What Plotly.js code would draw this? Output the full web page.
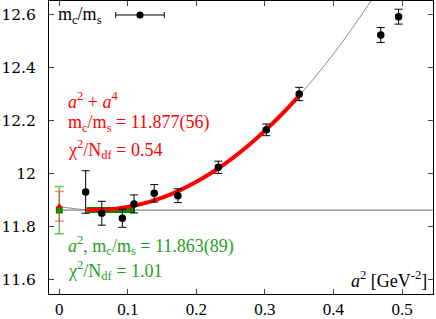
<!DOCTYPE html>
<html>
<head>
<meta charset="utf-8">
<script src="https://cdn.plot.ly/plotly-3.0.1.min.js"></script>
<style>html,body{margin:0;padding:0;background:#fff;}#chart{width:436px;height:319px;}</style>
</head>
<body>
<div id="chart"></div>
<script>
// lattice data: m_c/m_s vs a^2
const a2 = [0.0385, 0.062, 0.092, 0.109, 0.1385, 0.173, 0.232, 0.302, 0.35, 0.469, 0.495];
const ratio = [11.931, 11.851, 11.832, 11.886, 11.926, 11.917, 12.024, 12.165, 12.300, 12.522, 12.591];
const ratioErr = [0.080, 0.045, 0.034, 0.034, 0.033, 0.026, 0.023, 0.022, 0.025, 0.028, 0.028];

// a^2 + a^4 fit curve
const fitX = [0, 0.02, 0.04, 0.06, 0.08, 0.1, 0.125, 0.15, 0.175, 0.2, 0.225, 0.25, 0.275, 0.3, 0.325, 0.35, 0.375, 0.4, 0.425, 0.45, 0.46];
const fitY = [11.877, 11.8687, 11.8643, 11.8637, 11.8671, 11.8744, 11.889, 11.9096, 11.9364, 11.9692, 12.0081, 12.0531, 12.1042, 12.1614, 12.2247, 12.294, 12.3695, 12.451, 12.5386, 12.6323, 12.6715];
// fitted range (thick red)
const fitRangeX = [0.04, 0.06, 0.08, 0.1, 0.125, 0.15, 0.175, 0.2, 0.225, 0.25, 0.275, 0.3, 0.325, 0.35];
const fitRangeY = [11.8643, 11.8637, 11.8671, 11.8744, 11.889, 11.9096, 11.9364, 11.9692, 12.0081, 12.0531, 12.1042, 12.1614, 12.2247, 12.294];

// constant (a^2) fit
const constX = [0, 0.545];
const constY = [11.863, 11.863];
const constRangeX = [0.04, 0.11];
const constRangeY = [11.863, 11.863];

// continuum extrapolations
const extrapX = [0];
const extrapRed = [11.877];
const extrapRedErr = [0.056];
const extrapGreen = [11.863];
const extrapGreenErr = [0.089];

const xTicks = [0, 0.1, 0.2, 0.3, 0.4, 0.5];
const xTickText = ['0', '0.1', '0.2', '0.3', '0.4', '0.5'];
const yTicks = [11.6, 11.8, 12, 12.2, 12.4, 12.6];
const yTickText = ['11.6', '11.8', '12', '12.2', '12.4', '12.6'];

const FONT = "'Liberation Serif', 'DejaVu Serif', serif";
const WIDE = "'DejaVu Serif', serif";
const RED = '#ff0000';
const GREEN = '#1f9f1f';

const traces = [
  {x: constX, y: constY, mode: 'lines', line: {color: '#8a8a8a', width: 1.2}, hoverinfo: 'skip'},
  {x: fitX, y: fitY, mode: 'lines', line: {color: '#8a8a8a', width: 1, shape: 'spline'}, hoverinfo: 'skip'},
  {x: constRangeX, y: constRangeY, mode: 'lines', line: {color: '#008a00', width: 6}, hoverinfo: 'skip'},
  {x: fitRangeX, y: fitRangeY, mode: 'lines', line: {color: RED, width: 4, shape: 'spline'}, hoverinfo: 'skip'},
  {x: extrapX, y: extrapGreen, mode: 'markers',
   error_y: {type: 'data', array: extrapGreenErr, visible: true, color: 'rgba(40,180,40,0.75)', thickness: 1.5, width: 4.5},
   marker: {symbol: 'square', size: 7, color: '#008a00'}},
  {x: extrapX, y: extrapRed, mode: 'markers',
   error_y: {type: 'data', array: extrapRedErr, visible: true, color: 'rgba(255,60,60,0.6)', thickness: 1.5, width: 4.5},
   marker: {symbol: 'triangle-up', size: 6, color: RED}},
  {x: a2, y: ratio, mode: 'markers',
   error_y: {type: 'data', array: ratioErr, visible: true, color: '#000', thickness: 1, width: 4},
   marker: {symbol: 'circle', size: 7.5, color: '#000'}}
];

function px(x){ return (x - 49) / 384; }
function py(y){ return (294 - y) / 293; }

const ann = (x, y, text, color, anchor) => ({
  xref: 'paper', yref: 'paper', x: px(x), y: py(y), text: text, showarrow: false,
  xanchor: anchor || 'left', yanchor: 'middle', font: {family: FONT, size: 18, color: color}
});

const layout = {
  width: 436, height: 319,
  margin: {l: 49, r: 3, t: 1, b: 25},
  paper_bgcolor: '#fff', plot_bgcolor: '#fff',
  showlegend: false,
  font: {family: FONT, size: 18, color: '#000'},
  xaxis: {range: [-0.015, 0.5452], tickvals: xTicks, ticktext: xTickText, ticks: 'inside', ticklen: 5,
          showline: true, linecolor: '#000', linewidth: 1, mirror: 'ticks', showgrid: false, zeroline: false,
          tickfont: {family: FONT, size: 17}, ticklabelstandoff: 0},
  yaxis: {range: [11.547, 12.65], tickvals: yTicks, ticktext: yTickText, ticks: 'inside', ticklen: 5,
          showline: true, linecolor: '#000', linewidth: 1, mirror: 'ticks', showgrid: false, zeroline: false,
          tickfont: {family: WIDE, size: 15.5}, ticklabelstandoff: 9},
  shapes: [
    {type: 'line', xref: 'paper', yref: 'paper', x0: px(115.7), x1: px(164.3), y0: py(15), y1: py(15), line: {color: '#000', width: 1}},
    {type: 'line', xref: 'paper', yref: 'paper', x0: px(115.7), x1: px(115.7), y0: py(12), y1: py(18), line: {color: '#000', width: 1}},
    {type: 'line', xref: 'paper', yref: 'paper', x0: px(164.3), x1: px(164.3), y0: py(12), y1: py(18), line: {color: '#000', width: 1}},
    {type: 'circle', xref: 'paper', yref: 'paper', x0: px(136.4), x1: px(143.6), y0: py(11.4), y1: py(18.6), fillcolor: '#000', line: {color: '#000', width: 0}}
  ],
  annotations: [
    ann(56, 15, 'm<sub>c</sub>/m<sub>s</sub>', '#000'),
    ann(66, 100, '<i>a</i><sup>2</sup> + <i>a</i><sup>4</sup>', RED),
    ann(66, 123, 'm<sub>c</sub>/m<sub>s</sub> = 11.877(56)', RED),
    ann(66, 149, 'χ<sup>2</sup>/N<sub>df</sub> = 0.54', RED),
    ann(66, 245, '<i>a</i><sup>2</sup>, m<sub>c</sub>/m<sub>s</sub> = 11.863(89)', GREEN),
    ann(66, 270, 'χ<sup>2</sup>/N<sub>df</sub> = 1.01', GREEN),
    ann(429, 279, '<i>a</i><sup>2</sup> [GeV<sup>-2</sup>]', '#000', 'right')
  ]
};

Plotly.newPlot('chart', traces, layout, {displayModeBar: false, staticPlot: true});
</script>
</body>
</html>
